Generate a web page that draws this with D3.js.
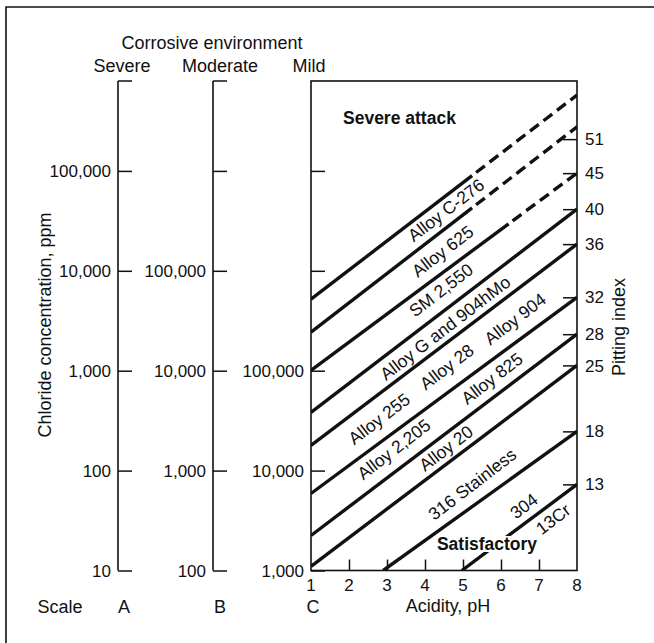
<!DOCTYPE html>
<html><head><meta charset="utf-8">
<script src="https://cdn.jsdelivr.net/npm/d3@7"></script>
<style>
html,body{margin:0;padding:0;background:#fff;}
text{font-family:"Liberation Sans",Arial,Helvetica,sans-serif;fill:#111;}
</style></head>
<body>
<svg id="c" width="654" height="643"></svg>
<script>
// ---- data ----
const scaleATicks = [10, 100, 1000, 10000, 100000];
const scaleALabels = ["10", "100", "1,000", "10,000", "100,000"];
const scaleBTicks = [100, 1000, 10000, 100000, 1000000];
const scaleBLabels = ["100", "1,000", "10,000", "100,000", ""];
const scaleCTicks = [1000, 10000, 100000, 1000000, 10000000];
const scaleCLabels = ["1,000", "10,000", "100,000", "", ""];
const pHTicks = [1, 2, 3, 4, 5, 6, 7, 8];

// alloy lines (scale C ppm vs pH)
const lineStartPH  = [1, 1, 1, 1, 1, 1, 1, 1, 2.9, 4.97];
const lineStartPPM = [519000, 243000, 101000, 38300, 17900, 5900, 2240, 1100, 1000, 1000];
const lineEndPH    = [8, 8, 8, 8, 8, 8, 8, 8, 8, 8];
const lineEndPPM   = [5.75e7, 2.76e7, 9.5e6, 4.14e6, 1.85e6, 5.43e5, 2.32e5, 1.13e5, 2.47e4, 7.28e3];
const solidEndPH   = [5.24, 5.24, 6.2, 8, 8, 8, 8, 8, 8, 8];

// pitting index ticks on right edge (at pH 8, scale C ppm)
const pittingIndex = [51, 45, 40, 36, 32, 28, 25, 18, 13];
const pittingPPM   = [2.08e7, 9.5e6, 4.14e6, 1.85e6, 5.43e5, 2.32e5, 1.13e5, 2.47e4, 7.28e3];

// band labels (center pH, center log10 ppm on scale C)
const alloyLabels = ["Alloy C-276", "Alloy 625", "SM 2,550", "Alloy G and 904hMo", "Alloy 255", "Alloy 28", "Alloy 904",
  "Alloy 2,205", "Alloy 825", "Alloy 20", "316 Stainless", "304", "13Cr"];
const alloyLabelPH  = [4.55, 4.46, 4.42, 4.53, 2.79, 4.57, 6.37, 3.18, 5.76, 4.55, 5.24, 6.60, 7.37];
const alloyLabelLog = [6.61, 6.198, 5.808, 5.43, 4.52, 5.04, 5.52, 4.216, 4.925, 4.226, 3.866, 3.646, 3.516];

// ---- drawing ----
const svg = d3.select("#c");
const yTop = 81, yBot = 570.5;
const xAxisA = 118, xAxisB = 213;
const x = d3.scaleLinear().domain([1, 8]).range([311, 577]);
const yA = d3.scaleLog().domain([10, Math.pow(10, 5.9)]).range([yBot, yTop]);
const yB = d3.scaleLog().domain([100, Math.pow(10, 6.9)]).range([yBot, yTop]);
const yC = d3.scaleLog().domain([1000, Math.pow(10, 7.9)]).range([yBot, yTop]);

// outer frame (left and top visible)
svg.append("path").attr("d", "M6,700 L6,7 L700,7").attr("fill", "none").attr("stroke", "#111").attr("stroke-width", 1.6);

// titles
svg.append("text").attr("x", 212).attr("y", 49).attr("text-anchor", "middle").style("font-size", "18px").text("Corrosive environment");
svg.append("text").attr("x", 122).attr("y", 72).attr("text-anchor", "middle").style("font-size", "18px").text("Severe");
svg.append("text").attr("x", 220).attr("y", 72).attr("text-anchor", "middle").style("font-size", "18px").text("Moderate");
svg.append("text").attr("x", 309).attr("y", 72).attr("text-anchor", "middle").style("font-size", "18px").text("Mild");

// left scale axes drawn with d3 axes
function drawScale(xpos, scale, ticks, labels) {
  const ax = d3.axisRight(scale).tickValues(ticks).tickSize(14).tickFormat(() => "");
  const g = svg.append("g").attr("transform", `translate(${xpos},0)`).call(ax);
  g.select(".domain").remove();
  g.selectAll(".tick line").attr("stroke", "#111").attr("stroke-width", 1.5);
  g.append("line").attr("x1", 0).attr("x2", 0).attr("y1", yTop).attr("y2", yBot).attr("stroke", "#111").attr("stroke-width", 1.6);
  g.append("line").attr("x1", 0).attr("x2", 14).attr("y1", yTop).attr("y2", yTop).attr("stroke", "#111").attr("stroke-width", 1.5);
  ticks.forEach((t, i) => {
    if (!labels[i]) return;
    svg.append("text").attr("x", xpos - 7).attr("y", scale(t)).attr("dy", "0.36em")
      .attr("text-anchor", "end").style("font-size", "17px").text(labels[i]);
  });
}
drawScale(xAxisA, yA, scaleATicks, scaleALabels);
drawScale(xAxisB, yB, scaleBTicks, scaleBLabels);

// scale C axis (left edge of plot) with ticks into plot
(function () {
  const ax = d3.axisRight(yC).tickValues(scaleCTicks).tickSize(14).tickFormat(() => "");
  const g = svg.append("g").attr("transform", `translate(${x(1)},0)`).call(ax);
  g.select(".domain").remove();
  g.selectAll(".tick line").attr("stroke", "#111").attr("stroke-width", 1.5);
  scaleCTicks.forEach((t, i) => {
    if (!scaleCLabels[i]) return;
    svg.append("text").attr("x", x(1) - 7).attr("y", yC(t)).attr("dy", "0.36em")
      .attr("text-anchor", "end").style("font-size", "17px").text(scaleCLabels[i]);
  });
})();

// clip for plot
svg.append("clipPath").attr("id", "pc").append("rect")
  .attr("x", x(1)).attr("y", yTop).attr("width", x(8) - x(1)).attr("height", yBot - yTop);

// alloy lines
const lg = svg.append("g").attr("clip-path", "url(#pc)");
const line = d3.line().x(d => x(d[0])).y(d => yC(d[1]));
lineStartPH.forEach((p0, i) => {
  const c0 = lineStartPPM[i], p1 = lineEndPH[i], c1 = lineEndPPM[i];
  const ps = solidEndPH[i];
  const lc0 = Math.log10(c0), lc1 = Math.log10(c1);
  const cs = Math.pow(10, lc0 + (lc1 - lc0) * (ps - p0) / (p1 - p0));
  lg.append("path").attr("d", line([[p0, c0], [ps, cs]]))
    .attr("fill", "none").attr("stroke", "#111").attr("stroke-width", 3.4);
  if (ps < p1) {
    lg.append("path").attr("d", line([[ps, cs], [p1, c1]]))
      .attr("fill", "none").attr("stroke", "#111").attr("stroke-width", 3.4)
      .attr("stroke-dasharray", "11,6").attr("stroke-dashoffset", -5);
  }
});

// plot box
svg.append("rect").attr("x", x(1)).attr("y", yTop).attr("width", x(8) - x(1)).attr("height", yBot - yTop)
  .attr("fill", "none").attr("stroke", "#111").attr("stroke-width", 1.6);

// pH axis
const xa = d3.axisTop(x).tickValues(pHTicks.slice(1, -1)).tickSize(11).tickFormat(() => "");
const xg = svg.append("g").attr("transform", `translate(0,${yBot})`).call(xa);
xg.select(".domain").remove();
xg.selectAll(".tick line").attr("stroke", "#111").attr("stroke-width", 1.5);
pHTicks.forEach(t => {
  svg.append("text").attr("x", x(t)).attr("y", 591).attr("text-anchor", "middle").style("font-size", "17px").text(t);
});

// pitting index ticks (right edge, pointing inward)
const ya = d3.axisLeft(yC).tickValues(pittingPPM).tickSize(14).tickFormat(() => "");
const yg = svg.append("g").attr("transform", `translate(${x(8)},0)`).call(ya);
yg.select(".domain").remove();
yg.selectAll(".tick line").attr("stroke", "#111").attr("stroke-width", 1.5);
pittingPPM.forEach((v, i) => {
  svg.append("text").attr("x", 585).attr("y", yC(v)).attr("dy", "0.36em").style("font-size", "17px").text(pittingIndex[i]);
});

// alloy labels
const ang = -Math.atan((yC(lineStartPPM[0]) - yC(lineEndPPM[0])) / (x(8) - x(1))) * 180 / Math.PI;
alloyLabels.forEach((t, i) => {
  const cx = x(alloyLabelPH[i]), cy = yC(Math.pow(10, alloyLabelLog[i]));
  svg.append("text").attr("transform", `translate(${cx},${cy}) rotate(${ang})`)
    .attr("text-anchor", "middle").attr("dy", "0.36em").style("font-size", "17.5px").text(t);
});

// region labels
svg.append("text").attr("x", 343).attr("y", 124).style("font-size", "17.5px").style("font-weight", "bold").text("Severe attack");
const satG = svg.append("g");
const satBg = satG.append("rect").attr("fill", "#fff");
const sat = satG.append("text").attr("x", 487).attr("y", 550).attr("text-anchor", "middle")
  .style("font-size", "17.5px").style("font-weight", "bold").text("Satisfactory");
const bb = sat.node().getBBox();
satBg.attr("x", bb.x - 3).attr("y", bb.y + 2).attr("width", bb.width + 6).attr("height", bb.height - 4);

// axis titles
svg.append("text").attr("transform", "translate(51,325) rotate(-90)").attr("text-anchor", "middle")
  .style("font-size", "18px").text("Chloride concentration, ppm");
svg.append("text").attr("transform", "translate(625,327) rotate(-90)").attr("text-anchor", "middle")
  .style("font-size", "18px").text("Pitting index");
svg.append("text").attr("x", 448).attr("y", 612).attr("text-anchor", "middle").style("font-size", "18px").text("Acidity, pH");

// scale labels
svg.append("text").attr("x", 60).attr("y", 613).attr("text-anchor", "middle").style("font-size", "18px").text("Scale");
svg.append("text").attr("x", 124).attr("y", 613).attr("text-anchor", "middle").style("font-size", "18px").text("A");
svg.append("text").attr("x", 220).attr("y", 613).attr("text-anchor", "middle").style("font-size", "18px").text("B");
svg.append("text").attr("x", 313).attr("y", 613).attr("text-anchor", "middle").style("font-size", "18px").text("C");
</script>
</body></html>
